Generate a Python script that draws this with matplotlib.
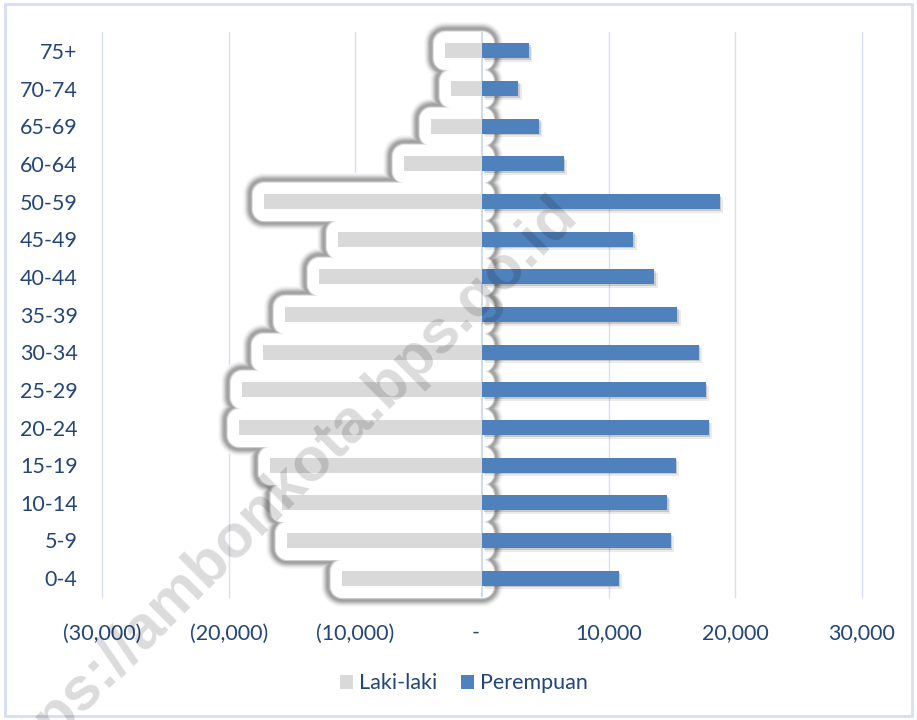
import matplotlib
matplotlib.use('Agg')
import matplotlib.pyplot as plt
import matplotlib.patheffects as pe
from matplotlib.patches import Patch, Rectangle

# age groups, bottom to top
age_groups = ['0-4', '5-9', '10-14', '15-19', '20-24', '25-29', '30-34', '35-39',
              '40-44', '45-49', '50-59', '60-64', '65-69', '70-74', '75+']
laki_laki = [11050, 15400, 15800, 16750, 19200, 18950, 17300, 15550,
             12850, 11350, 17200, 6150, 4000, 2450, 2900]
perempuan = [10800, 14900, 14600, 15300, 17900, 17650, 17100, 15400,
             13600, 11950, 18750, 6450, 4500, 2850, 3700]

x_ticks = [-30000, -20000, -10000, 0, 10000, 20000, 30000]
x_tick_labels = ['(30,000)', '(20,000)', '(10,000)', '-  ', '10,000', '20,000', '30,000']

GRAY = '#d9d9d9'
BLUE = '#4f81bd'
TEXT = '#234678'
GRID = '#d6e0f0'
DPI = 100

plt.rcParams['font.family'] = ['Lato', 'DejaVu Sans']

fig = plt.figure(figsize=(9.17, 7.2), dpi=DPI)
ax = fig.add_axes([102 / 917, 1 - 597 / 720, 760 / 917, 565 / 720])

ypos = list(range(len(age_groups)))
neg_laki = [-v for v in laki_laki]
bar_h = 0.4

# soft glow ring around the male bars (outer -> inner layers, radius in px)
glow_layers = [(21.0, '#f8f8f8'), (20.0, '#efefef'), (19.0, '#e2e2e2'),
               (18.0, '#d0d0d0'), (17.0, '#bcbcbc'), (16.0, '#ababab'),
               (15.0, '#a0a0a0'), (14.0, '#a3a3a3'), (13.2, '#b5b5b5'),
               (12.6, '#cbcbcb'), (12.0, '#e4e4e4'), (11.5, '#ffffff')]
for i, (r, col) in enumerate(glow_layers):
    ax.barh(ypos, neg_laki, height=bar_h, color=col, edgecolor=col,
            linewidth=2 * r * 72 / DPI, joinstyle='round', zorder=1 + i * 0.01,
            clip_on=False)

for xv in x_ticks:
    if xv != 0:
        ax.axvline(xv, color=GRID, lw=1, zorder=0.5, clip_on=False)
ax.axvline(0, color='#c5d5ea', lw=1.2, zorder=2)

ax.barh(ypos, neg_laki, height=bar_h, color=GRAY, zorder=3, label='Laki-laki')
bars_p = ax.barh(ypos, perempuan, height=bar_h, color=BLUE, zorder=3, label='Perempuan')
for b in bars_p:
    b.set_path_effects([pe.SimplePatchShadow(offset=(2.5, -2.5), shadow_rgbFace='#000000', alpha=0.08),
                        pe.SimplePatchShadow(offset=(1.2, -1.2), shadow_rgbFace='#000000', alpha=0.14),
                        pe.Normal()])

ax.set_xlim(-30000, 30000)
ax.set_ylim(-0.5, len(age_groups) - 0.5)
ax.set_yticks(ypos)
ax.set_yticklabels(age_groups)
ax.set_xticks(x_ticks)
ax.set_xticklabels(x_tick_labels)
ax.tick_params(axis='both', length=0, labelsize=15.5, labelcolor=TEXT)
ax.tick_params(axis='y', pad=17.5)
ax.tick_params(axis='x', pad=19)
for s in ax.spines.values():
    s.set_visible(False)

handles = [Patch(facecolor=GRAY, label='Laki-laki'), Patch(facecolor=BLUE, label='Perempuan')]
fig.legend(handles=handles, loc='center', bbox_to_anchor=(0.506, 0.051), ncol=2, frameon=False,
           fontsize=15.5, labelcolor=TEXT, handlelength=0.6, handleheight=0.6,
           handletextpad=0.3, columnspacing=1.1)

# watermark
fig.text(0.3032, 0.3139, 'https://ambonkota.bps.go.id', rotation=44.9, rotation_mode='anchor',
         ha='center', va='center', fontsize=44, fontweight='bold', family='Liberation Sans',
         color='black', alpha=0.14, zorder=10)

# chart border
fig.patches.append(Rectangle((5 / 917, 4 / 720), 907 / 917, 712 / 720, transform=fig.transFigure,
                             fill=False, edgecolor='#d6dff0', linewidth=2))

fig.savefig('out.png', dpi=DPI)
